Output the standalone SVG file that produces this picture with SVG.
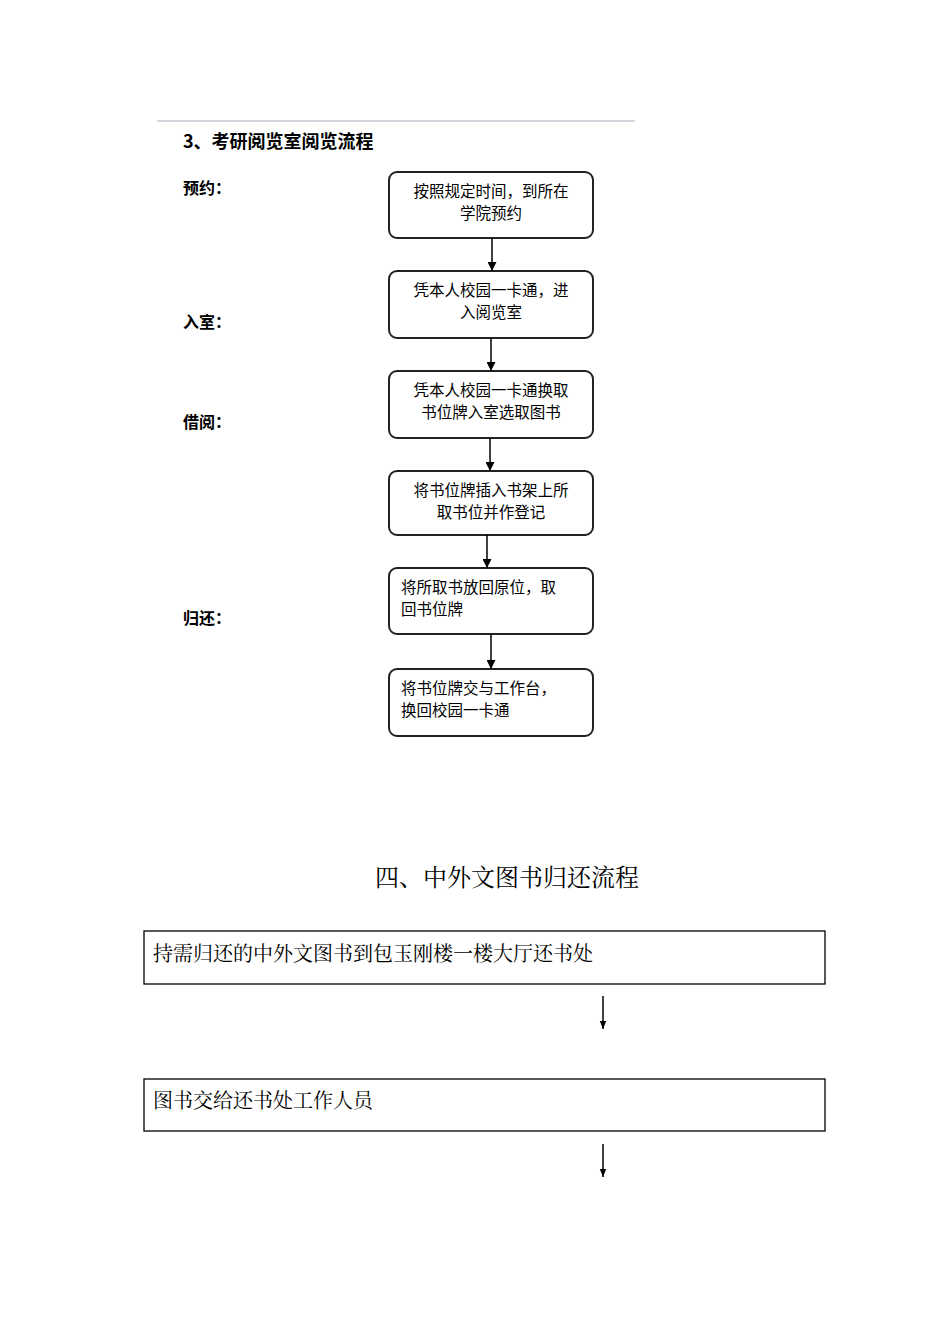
<svg xmlns="http://www.w3.org/2000/svg" width="950" height="1344" viewBox="0 0 950 1344">
<style>
text{font-family:"Noto Sans CJK SC","Liberation Sans",sans-serif;fill:#000}
.b{fill:#fff;stroke:#222;stroke-width:2}
.t{font-size:15.5px}
.l{font-size:16px;font-weight:bold}
.s{fill:#fff;stroke:#000;stroke-width:1.3}
.st{font-family:"Noto Serif CJK SC","Liberation Serif","Noto Sans CJK SC",serif;font-size:20px}
.c{stroke:#000;stroke-width:1.5;fill:none}
</style>
<defs>
<marker id="a" viewBox="0 0 10 10" refX="10" refY="5" markerWidth="9" markerHeight="9" markerUnits="userSpaceOnUse" orient="auto"><path d="M0,0L10,5L0,10z" fill="#000"/></marker>
<marker id="a2" viewBox="0 0 10 10" refX="10" refY="5" markerWidth="12" markerHeight="8" markerUnits="userSpaceOnUse" orient="auto"><path d="M0,1L10,5L0,9z" fill="#000"/></marker>
</defs>
<line x1="157" y1="121" x2="635" y2="121" stroke="#aab" stroke-width="1"/>
<text x="183" y="148" style="font-size:18px;font-weight:bold">3、考研阅览室阅览流程</text>
<text class="l" x="183" y="194">预约：</text>
<text class="l" x="183" y="328">入室：</text>
<text class="l" x="183" y="428">借阅：</text>
<text class="l" x="183" y="624">归还：</text>
<g id="n1"><rect class="b" x="389" y="172" width="204" height="66" rx="8"/><text class="t" x="491" y="197" text-anchor="middle">按照规定时间，到所在</text><text class="t" x="491" y="219" text-anchor="middle">学院预约</text></g>
<g id="n2"><rect class="b" x="389" y="271" width="204" height="67" rx="8"/><text class="t" x="491" y="296" text-anchor="middle">凭本人校园一卡通，进</text><text class="t" x="491" y="318" text-anchor="middle">入阅览室</text></g>
<g id="n3"><rect class="b" x="389" y="371" width="204" height="67" rx="8"/><text class="t" x="491" y="396" text-anchor="middle">凭本人校园一卡通换取</text><text class="t" x="491" y="418" text-anchor="middle">书位牌入室选取图书</text></g>
<g id="n4"><rect class="b" x="389" y="471" width="204" height="64" rx="8"/><text class="t" x="491" y="496" text-anchor="middle">将书位牌插入书架上所</text><text class="t" x="491" y="518" text-anchor="middle">取书位并作登记</text></g>
<g id="n5"><rect class="b" x="389" y="568" width="204" height="66" rx="8"/><text class="t" x="401" y="593">将所取书放回原位，取</text><text class="t" x="401" y="615">回书位牌</text></g>
<g id="n6"><rect class="b" x="389" y="669" width="204" height="67" rx="8"/><text class="t" x="401" y="694">将书位牌交与工作台，</text><text class="t" x="401" y="716">换回校园一卡通</text></g>
<text x="375" y="886" style="font-family:'Noto Serif CJK SC','Liberation Serif','Noto Sans CJK SC',serif;font-size:24px">四、中外文图书归还流程</text>
<g id="m1"><rect class="s" x="144" y="931" width="681" height="53"/><text class="st" x="153" y="961">持需归还的中外文图书到包玉刚楼一楼大厅还书处</text></g>
<g id="m2"><rect class="s" x="144" y="1079" width="681" height="52"/><text class="st" x="153" y="1108">图书交给还书处工作人员</text></g>
<g id="connectors">
<line class="c" x1="492" y1="238" x2="492" y2="271" marker-end="url(#a)"/>
<line class="c" x1="491" y1="338" x2="491" y2="371" marker-end="url(#a)"/>
<line class="c" x1="490" y1="438" x2="490" y2="471" marker-end="url(#a)"/>
<line class="c" x1="487" y1="535" x2="487" y2="568" marker-end="url(#a)"/>
<line class="c" x1="491" y1="634" x2="491" y2="669" marker-end="url(#a)"/>
<line class="c" x1="603" y1="996" x2="603" y2="1029" marker-end="url(#a2)"/>
<line class="c" x1="603" y1="1144" x2="603" y2="1177" marker-end="url(#a2)"/>
</g>
</svg>
